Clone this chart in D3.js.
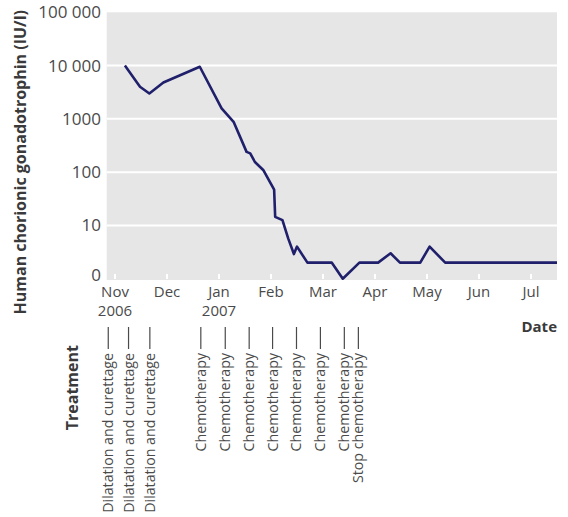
<!DOCTYPE html>
<html>
<head>
<meta charset="utf-8">
<script src="https://cdn.jsdelivr.net/npm/d3@7"></script>
<style>
  body { margin: 0; background: #fff; }
  text { font-family: "Open Sans", sans-serif; }
</style>
</head>
<body>
<div id="chart"></div>
<script>
// hCG readings: months since 1 Nov 2006, value in IU/l
var months = [0.19, 0.48, 0.66, 0.93, 1.63, 2.05, 2.28, 2.53, 2.60, 2.69, 2.85, 3.06, 3.08, 3.22, 3.33, 3.44, 3.50, 3.70, 4.17, 4.38, 4.70, 5.06, 5.30, 5.48, 5.87, 6.05, 6.35, 8.50]
var hcg = [10000, 4000, 3000, 4800, 9500, 1580, 880, 240, 225, 155, 110, 47, 14.5, 12.6, 5.7, 2.9, 4, 2, 2, 1, 2, 2, 3, 2, 2, 4, 2, 2]

var monthLabels = ["Nov", "Dec", "Jan", "Feb", "Mar", "Apr", "May", "Jun", "Jul"]
var yearLabels = ["2006", "", "2007", "", "", "", "", "", ""]

var yTicks = [1, 10, 100, 1000, 10000, 100000]
var yTickLabels = ["0", "10", "100", "1000", "10 000", "100 000"]

// treatment events (months since 1 Nov 2006)
var treatMonths = [-0.13, 0.26, 0.67, 1.65, 2.12, 2.58, 3.03, 3.49, 3.95, 4.41, 4.68]
var treatLabels = ["Dilatation and curettage", "Dilatation and curettage", "Dilatation and curettage",
  "Chemotherapy", "Chemotherapy", "Chemotherapy", "Chemotherapy", "Chemotherapy",
  "Chemotherapy", "Chemotherapy", "Stop chemotherapy"]

var width = 568, height = 517
var plot = { left: 106.7, right: 557, top: 12.3, bottom: 280 }

var svg = d3.select("#chart").append("svg")
  .attr("width", width)
  .attr("height", height)

var x = d3.scaleLinear().domain([-0.16, 8.5]).range([plot.left, plot.right])
var y = d3.scaleLog().domain([1, 100000]).range([278.7, plot.top])

// plot background
svg.append("rect")
  .attr("x", plot.left).attr("y", plot.top)
  .attr("width", plot.right - plot.left)
  .attr("height", plot.bottom - plot.top)
  .attr("fill", "#e6e6e6")

// grid lines
svg.append("g").selectAll("line")
  .data(yTicks.filter(d => d > 1 && d < 100000))
  .join("line")
  .attr("x1", plot.left).attr("x2", plot.right)
  .attr("y1", d => y(d)).attr("y2", d => y(d))
  .attr("stroke", "#fff")
  .attr("stroke-width", 2)

// white month ticks inside the plot
svg.append("g").selectAll("line")
  .data(monthLabels)
  .join("line")
  .attr("x1", (d, i) => x(i)).attr("x2", (d, i) => x(i))
  .attr("y1", plot.bottom - 6).attr("y2", plot.bottom - 1)
  .attr("stroke", "#fff")
  .attr("stroke-width", 2)

// y tick labels
svg.append("g").selectAll("text")
  .data(yTicks)
  .join("text")
  .attr("x", 101)
  .attr("y", d => y(d) - (d === 1 ? 4 : 0))
  .attr("dy", "0.35em")
  .attr("text-anchor", "end")
  .attr("font-size", "17px")
  .attr("fill", "#4a4a4a")
  .text((d, i) => yTickLabels[i])

// month labels
var xlab = svg.append("g")
xlab.selectAll("text.month")
  .data(monthLabels)
  .join("text")
  .attr("class", "month")
  .attr("x", (d, i) => x(i))
  .attr("y", 297)
  .attr("text-anchor", "middle")
  .attr("font-size", "15px")
  .attr("fill", "#4a4a4a")
  .text(d => d)
xlab.selectAll("text.year")
  .data(yearLabels)
  .join("text")
  .attr("class", "year")
  .attr("x", (d, i) => x(i))
  .attr("y", 316)
  .attr("text-anchor", "middle")
  .attr("font-size", "15px")
  .attr("fill", "#4a4a4a")
  .text(d => d)

// the hCG line
var line = d3.line()
  .x((d, i) => x(months[i]))
  .y(d => y(d))

svg.append("path")
  .datum(hcg)
  .attr("d", line)
  .attr("fill", "none")
  .attr("stroke", "#1f1f6b")
  .attr("stroke-width", 2.6)
  .attr("stroke-linejoin", "round")

// treatment markers
var tg = svg.append("g")
tg.selectAll("line")
  .data(treatMonths)
  .join("line")
  .attr("x1", d => x(d)).attr("x2", d => x(d))
  .attr("y1", 327).attr("y2", 349)
  .attr("stroke", "#4a4a4a")
  .attr("stroke-width", 1.2)
tg.selectAll("text")
  .data(treatMonths)
  .join("text")
  .attr("transform", d => `translate(${x(d)},353) rotate(-90)`)
  .attr("dy", "0.35em")
  .attr("text-anchor", "end")
  .attr("font-size", "14.2px")
  .attr("fill", "#4a4a4a")
  .text((d, i) => treatLabels[i])

// axis titles
svg.append("text")
  .attr("transform", "translate(20,10) rotate(-90)")
  .attr("dy", "0.35em")
  .attr("text-anchor", "end")
  .attr("font-size", "16px")
  .attr("font-weight", "700")
  .attr("fill", "#3a3a3a")
  .text("Human chorionic gonadotrophin (IU/l)")

svg.append("text")
  .attr("x", 557).attr("y", 327)
  .attr("dy", "0.35em")
  .attr("text-anchor", "end")
  .attr("font-size", "15px")
  .attr("font-weight", "700")
  .attr("fill", "#3a3a3a")
  .text("Date")

svg.append("text")
  .attr("transform", "translate(72,345) rotate(-90)")
  .attr("dy", "0.35em")
  .attr("text-anchor", "end")
  .attr("font-size", "16px")
  .attr("font-weight", "700")
  .attr("fill", "#3a3a3a")
  .text("Treatment")
</script>
</body>
</html>
